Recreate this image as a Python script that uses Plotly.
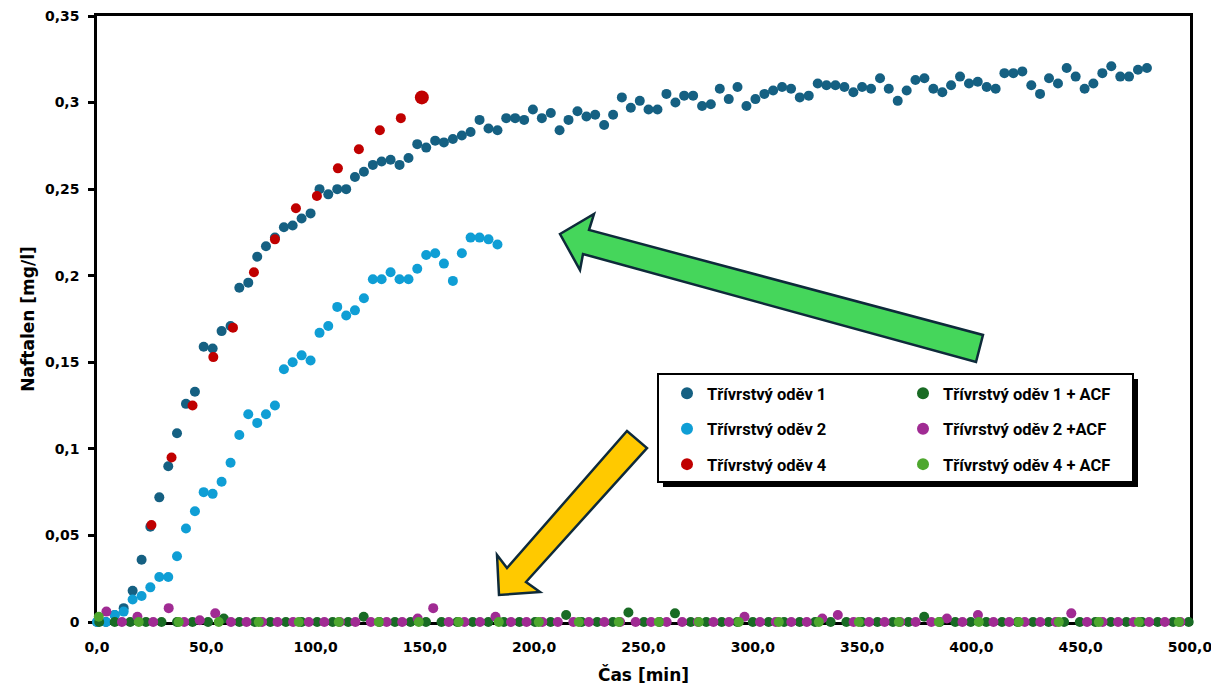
import plotly.graph_objects as go

# ---------------- data ----------------
t_s1 = [0.0, 4.1, 8.1, 12.2, 16.3, 20.4, 24.4, 28.5, 32.6, 36.6, 40.7, 44.8, 48.8, 52.9, 57.0,
        61.1, 65.1, 69.2, 73.3, 77.3, 81.4, 85.5, 89.5, 93.6, 97.7, 101.8, 105.8, 109.9, 114.0,
        118.0, 122.1, 126.2, 130.2, 134.3, 138.4, 142.5, 146.5, 150.6, 154.7, 158.7, 162.8,
        166.9, 170.9, 175.0, 179.1, 183.2, 187.2, 191.3, 195.4, 199.4, 203.5, 207.6, 211.6,
        215.7, 219.8, 223.9, 227.9, 232.0, 236.1, 240.1, 244.2, 248.3, 252.3, 256.4, 260.5,
        264.6, 268.6, 272.7, 276.8, 280.8, 284.9, 289.0, 293.0, 297.1, 301.2, 305.3, 309.3,
        313.4, 317.5, 321.5, 325.6, 329.7, 333.7, 337.8, 341.9, 346.0, 350.0, 354.1, 358.2,
        362.2, 366.3, 370.4, 374.4, 378.5, 382.6, 386.7, 390.7, 394.8, 398.9, 402.9, 407.0,
        411.1, 415.1, 419.2, 423.3, 427.4, 431.4, 435.5, 439.6, 443.6, 447.7, 451.8, 455.8,
        459.9, 464.0, 468.1, 472.1, 476.2, 480.3]
v_s1 = [0.0, 0.0, 0.004, 0.008, 0.018, 0.036, 0.055, 0.072, 0.090, 0.109, 0.126, 0.133, 0.159,
        0.158, 0.168, 0.171, 0.193, 0.196, 0.211, 0.217, 0.222, 0.228, 0.229, 0.233, 0.236,
        0.250, 0.247, 0.250, 0.250, 0.257, 0.260, 0.264, 0.266, 0.267, 0.264, 0.268, 0.276,
        0.274, 0.278, 0.277, 0.279, 0.281, 0.283, 0.290, 0.285, 0.284, 0.291, 0.291, 0.290,
        0.296, 0.291, 0.294, 0.284,
        0.290, 0.295, 0.292, 0.293, 0.287, 0.293, 0.303, 0.297, 0.301, 0.296,
        0.296, 0.305, 0.300, 0.304, 0.304, 0.298, 0.299, 0.308, 0.302, 0.309,
        0.298, 0.302, 0.305, 0.307, 0.309, 0.308, 0.303, 0.304, 0.311, 0.310,
        0.310, 0.309, 0.306, 0.309, 0.308, 0.314, 0.308, 0.301, 0.307, 0.313,
        0.314, 0.308, 0.306, 0.310, 0.315, 0.311, 0.312, 0.309, 0.308, 0.317,
        0.317, 0.318, 0.310, 0.305, 0.314, 0.311, 0.320, 0.315, 0.308, 0.311,
        0.317, 0.321, 0.315, 0.315, 0.319, 0.320]

t_s2 = [0.0, 4.1, 8.1, 12.2, 16.3, 20.4, 24.4, 28.5, 32.6, 36.6, 40.7, 44.8, 48.8, 52.9, 57.0,
        61.1, 65.1, 69.2, 73.3, 77.3, 81.4, 85.5, 89.5, 93.6, 97.7, 101.8, 105.8, 109.9, 114.0,
        118.0, 122.1, 126.2, 130.2, 134.3, 138.4, 142.5, 146.5, 150.6, 154.7, 158.7, 162.8,
        166.9, 170.9, 175.0, 179.1, 183.2]
v_s2 = [0.0, 0.0, 0.004, 0.006, 0.013, 0.015, 0.020, 0.026, 0.026, 0.038, 0.054, 0.064, 0.075,
        0.074, 0.081, 0.092, 0.108, 0.120, 0.115, 0.120, 0.125, 0.146, 0.150, 0.154, 0.151,
        0.167, 0.171, 0.182, 0.177, 0.180, 0.187, 0.198, 0.198, 0.202, 0.198, 0.198, 0.204,
        0.212, 0.213, 0.207, 0.197, 0.213, 0.222, 0.222, 0.221, 0.218]

t_s4 = [24.9, 34.1, 43.7, 53.2, 62.2, 71.8, 81.4, 91.0, 100.6, 110.2, 119.8, 129.4, 139.0, 148.6]
v_s4 = [0.056, 0.095, 0.125, 0.153, 0.170, 0.202, 0.221, 0.239, 0.246, 0.262, 0.273, 0.284,
        0.291, 0.303]

t_a1 = [1.0, 8.1, 15.2, 22.4, 29.5, 36.6, 43.7, 50.8, 58.0, 65.1, 72.2, 79.3, 86.4, 93.6, 100.7,
        107.8, 114.9, 122.0, 129.2, 136.3, 143.4, 150.5, 157.6, 164.8, 171.9, 179.0, 186.1,
        193.2, 200.4, 207.5, 214.6, 221.7, 228.8, 236.0, 243.1, 250.2, 257.3, 264.4, 271.6,
        278.7, 285.8, 292.9, 300.0, 307.2, 314.3, 321.4, 328.5, 335.6, 342.8, 349.9, 357.0,
        364.1, 371.2, 378.4, 385.5, 392.6, 399.7, 406.8, 414.0, 421.1, 428.2, 435.3, 442.4,
        449.6, 456.7, 463.8, 470.9, 478.0, 485.2, 492.3, 499.4]
v_a1 = [0, 0, 0, 0, 0, 0, 0, 0, 0.002, 0, 0, 0, 0, 0, 0, 0, 0, 0.003, 0, 0, 0, 0, 0, 0, 0, 0, 0,
        0, 0, 0, 0.004, 0, 0, 0, 0.0055, 0, 0, 0.005, 0, 0, 0, 0, 0, 0, 0, 0, 0, 0, 0, 0, 0,
        0, 0, 0.003, 0, 0, 0, 0, 0, 0, 0, 0, 0, 0, 0, 0, 0, 0, 0, 0, 0]

t_a2 = [4.3, 11.4, 18.5, 25.7, 32.8, 39.9, 47.0, 54.1, 61.3, 68.4, 75.5, 82.6, 89.7, 96.9, 104.0,
        111.1, 118.2, 125.3, 132.5, 139.6, 146.7, 153.8, 160.9, 168.1, 175.2, 182.3, 189.4,
        196.5, 203.7, 210.8, 217.9, 225.0, 232.1, 239.3, 246.4, 253.5, 260.6, 267.7, 274.9,
        282.0, 289.1, 296.2, 303.3, 310.5, 317.6, 324.7, 331.8, 338.9, 346.1, 353.2, 360.3,
        367.4, 374.5, 381.7, 388.8, 395.9, 403.0, 410.1, 417.3, 424.4, 431.5, 438.6, 445.7,
        452.9, 460.0, 467.1, 474.2, 481.3, 488.5, 495.6]
v_a2 = [0.006, 0, 0.003, 0, 0.008, 0, 0.001, 0.005, 0, 0, 0, 0, 0, 0, 0, 0, 0, 0, 0, 0, 0.002,
        0.008, 0, 0, 0, 0.003, 0, 0, 0, 0, 0, 0, 0, 0, 0, 0, 0, 0, 0, 0, 0, 0.003, 0, 0, 0, 0,
        0.002, 0.004, 0, 0, 0, 0, 0, 0, 0.002, 0, 0.004, 0, 0, 0, 0, 0, 0.005, 0, 0, 0, 0, 0,
        0, 0]

t_a4 = [0.8, 19.1, 37.4, 55.7, 74.0, 92.3, 110.6, 128.9, 147.2, 165.5, 183.8, 202.1, 220.4,
        238.7, 257.0, 275.3, 293.6, 311.9, 330.2, 348.5, 366.8, 385.1, 403.4, 421.7, 440.0,
        458.3, 476.6, 494.9]
v_a4 = [0.003, 0, 0, 0, 0, 0, 0, 0, 0, 0, 0, 0, 0, 0, 0, 0, 0, 0, 0, 0, 0, 0, 0, 0, 0, 0, 0, 0]

names = ["Třívrstvý oděv 1", "Třívrstvý oděv 2", "Třívrstvý oděv 4",
         "Třívrstvý oděv 1 + ACF", "Třívrstvý oděv 2 +ACF", "Třívrstvý oděv 4 + ACF"]

x_ticks = [0, 50, 100, 150, 200, 250, 300, 350, 400, 450, 500]
x_ticktext = ["0,0", "50,0", "100,0", "150,0", "200,0", "250,0", "300,0", "350,0", "400,0",
              "450,0", "500,0"]
y_ticks = [0, 0.05, 0.1, 0.15, 0.2, 0.25, 0.3, 0.35]
y_ticktext = ["0", "0,05", "0,1", "0,15", "0,2", "0,25", "0,3", "0,35"]

# ---------------- styles ----------------
colors = ["#156082", "#0F9ED5", "#C00000", "#196B24", "#A02B93", "#4EA72E"]
MS = 10
red_sizes = [MS] * (len(t_s4) - 1) + [14]

W, H = 1211, 687
L, R, T, B = 97, 21, 16, 65
PW, PH = W - L - R, H - T - B


def px2paper(px, py):
    return (px - L) / PW, (H - B - py) / PH


def path_from_px(points):
    parts = []
    for i, (a, b) in enumerate(points):
        x, y = px2paper(a, b)
        parts.append(("M" if i == 0 else "L") + f"{x:.5f},{y:.5f}")
    return " ".join(parts) + " Z"


fig = go.Figure()
series = [(t_s1, v_s1), (t_s2, v_s2), (t_s4, v_s4), (t_a1, v_a1), (t_a2, v_a2), (t_a4, v_a4)]
for i, (tx, vy) in enumerate(series):
    size = red_sizes if i == 2 else MS
    fig.add_trace(go.Scatter(
        x=tx, y=vy, mode="markers", name=names[i],
        marker=dict(color=colors[i], size=size, opacity=1, line=dict(width=0)),
        cliponaxis=False,
        legend="legend" if i < 3 else "legend2",
        legendgroup=f"g{i}",
    ))

tick_font = dict(family="DejaVu Sans", size=14, color="#000000", weight="bold")
title_font = dict(family="DejaVu Sans", size=17, color="#000000", weight="bold")
legend_font = dict(family="Roboto", size=16.5, color="#000000", weight="bold")

lx1, ly = px2paper(667, 376)
lx2, _ = px2paper(903, 376)

fig.update_layout(
    width=W, height=H,
    margin=dict(l=L, r=R, t=T, b=B, autoexpand=False),
    paper_bgcolor="white", plot_bgcolor="white",
    xaxis=dict(range=[0, 500], tickvals=x_ticks, ticktext=x_ticktext, tickfont=tick_font,
               showgrid=False, zeroline=False, showline=True, linecolor="black", linewidth=2.5,
               mirror=True, ticks="", layer="below traces", ticklabelstandoff=10,
               ticklabeloverflow="allow",
               title=dict(text="Čas [min]", font=title_font, standoff=16), automargin=False),
    yaxis=dict(range=[0, 0.35], tickvals=y_ticks, ticktext=y_ticktext, tickfont=tick_font,
               showgrid=False, zeroline=False, showline=True, linecolor="black", linewidth=2.5,
               mirror=True, ticks="outside", ticklen=6, tickwidth=2.5, tickcolor="black",
               layer="below traces", ticklabelstandoff=6, ticklabeloverflow="allow",
               title=dict(text="Naftalen [mg/l]", font=title_font, standoff=6), automargin=False),
    legend=dict(x=lx1, y=ly, xanchor="left", yanchor="top", bgcolor="rgba(0,0,0,0)",
                borderwidth=0, font=legend_font, traceorder="grouped", tracegroupgap=11,
                itemsizing="constant"),
    legend2=dict(x=lx2, y=ly, xanchor="left", yanchor="top", bgcolor="rgba(0,0,0,0)",
                 borderwidth=0, font=legend_font, traceorder="grouped", tracegroupgap=11,
                 itemsizing="constant"),
    showlegend=True,
)

# legend box with shadow
sx0, sy1 = px2paper(663, 379)
sx1, sy0 = px2paper(1138, 487)
bx0, by1 = px2paper(658, 374)
bx1, by0 = px2paper(1133, 482)
fig.add_shape(type="rect", xref="paper", yref="paper", x0=sx0, x1=sx1, y0=sy0, y1=sy1,
              fillcolor="#000000", line=dict(width=0), layer="above")
fig.add_shape(type="rect", xref="paper", yref="paper", x0=bx0, x1=bx1, y0=by0, y1=by1,
              fillcolor="white", line=dict(color="black", width=2), layer="above")

# arrows
green_arrow = [(560, 234), (594, 214), (589, 230), (983, 335), (976, 362), (583, 254), (580, 270)]
yellow_arrow = [(499, 595), (497, 555), (507, 568), (627, 431), (647, 448), (526, 582), (540, 592)]
fig.add_shape(type="path", xref="paper", yref="paper", path=path_from_px(green_arrow),
              fillcolor="#45D65B", line=dict(color="#0E2A3A", width=2.5), layer="above")
fig.add_shape(type="path", xref="paper", yref="paper", path=path_from_px(yellow_arrow),
              fillcolor="#FFC900", line=dict(color="#0E2A3A", width=2.5), layer="above")

fig.write_html(
    "out.html",
    config={"displayModeBar": False},
    post_script="document.body.style.margin='0';document.body.style.overflow='hidden';",
)
